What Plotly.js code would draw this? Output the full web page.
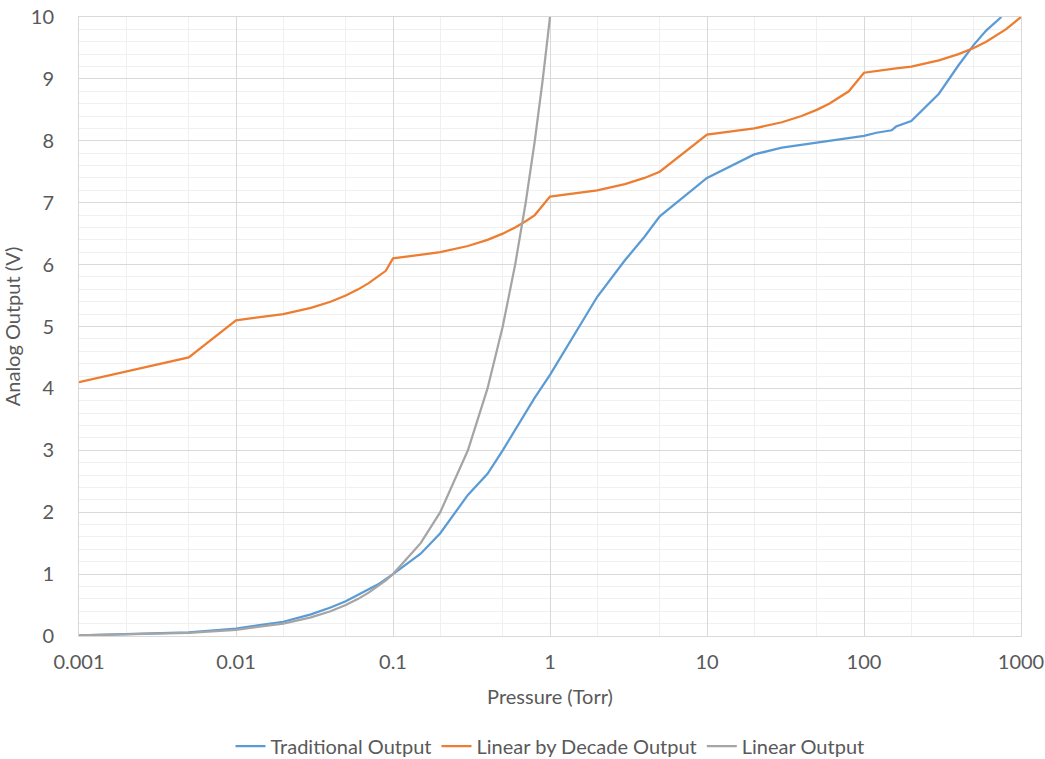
<!DOCTYPE html>
<html>
<head>
<meta charset="utf-8">
<script src="https://cdn.plot.ly/plotly-3.0.1.min.js"></script>
<style>html,body{margin:0;padding:0;background:#fff;}#chart{width:1045px;height:759px;}</style>
</head>
<body>
<div id="chart"></div>
<script>
// Traditional Output
const tradX = [0.001, 0.002, 0.005, 0.01, 0.02, 0.03, 0.04, 0.05, 0.06, 0.07, 0.08, 0.1, 0.15, 0.2, 0.3, 0.4, 0.5, 0.8, 1, 2, 3, 4, 5, 10, 20, 30, 50, 70, 100, 120, 150, 160, 200, 300, 400, 500, 600, 750];
const tradY = [0.01, 0.03, 0.06, 0.12, 0.23, 0.35, 0.46, 0.56, 0.66, 0.75, 0.83, 1.0, 1.33, 1.66, 2.28, 2.62, 3.0, 3.85, 4.22, 5.48, 6.07, 6.45, 6.78, 7.4, 7.78, 7.89, 7.97, 8.02, 8.08, 8.13, 8.17, 8.23, 8.32, 8.76, 9.22, 9.55, 9.78, 10.0];
// Linear by Decade Output
const decX = [0.001, 0.005, 0.01, 0.02, 0.03, 0.04, 0.05, 0.06, 0.07, 0.08, 0.09, 0.1, 0.2, 0.3, 0.4, 0.5, 0.6, 0.7, 0.8, 1, 2, 3, 4, 5, 10, 20, 30, 40, 50, 60, 70, 80, 100, 150, 160, 200, 300, 400, 500, 600, 700, 800, 1000];
const decY = [4.1, 4.5, 5.1, 5.2, 5.3, 5.4, 5.5, 5.6, 5.7, 5.8, 5.9, 6.1, 6.2, 6.3, 6.4, 6.5, 6.6, 6.7, 6.8, 7.1, 7.2, 7.3, 7.4, 7.5, 8.1, 8.2, 8.3, 8.4, 8.5, 8.6, 8.7, 8.8, 9.1, 9.15, 9.17, 9.2, 9.3, 9.4, 9.5, 9.6, 9.7, 9.8, 10.0];
// Linear Output
const linX = [0.001, 0.005, 0.01, 0.02, 0.03, 0.04, 0.05, 0.06, 0.07, 0.08, 0.09, 0.1, 0.15, 0.2, 0.3, 0.4, 0.5, 0.6, 0.7, 0.8, 0.9, 1];
const linY = [0.01, 0.05, 0.1, 0.2, 0.3, 0.4, 0.5, 0.6, 0.7, 0.8, 0.9, 1.0, 1.5, 2.0, 3.0, 4.0, 5.0, 6.0, 7.0, 8.0, 9.0, 10.0];

const xTickVals = [0.001, 0.01, 0.1, 1, 10, 100, 1000];
const xTickText = ['0.001', '0.01', '0.1', '1', '10', '100', '1000'];
const seriesNames = ['Traditional Output', 'Linear by Decade Output', 'Linear Output'];
const seriesColors = ['#5b9bd5', '#ed7d31', '#a5a5a5'];

const font = {family: 'Lato, Open Sans, sans-serif', color: '#595959'};
const f = s => Object.assign({size: s}, font);

const traces = [[tradX, tradY], [decX, decY], [linX, linY]].map((d, i) => ({
  x: d[0], y: d[1], type: 'scatter', mode: 'lines', name: seriesNames[i],
  line: {color: seriesColors[i], width: 2.25}
}));

const layout = {
  width: 1045, height: 759,
  margin: {l: 79, r: 24, t: 17, b: 123, autoexpand: false},
  paper_bgcolor: '#fff', plot_bgcolor: '#fff',
  font: f(20),
  showlegend: true,
  legend: {orientation: 'h', x: 0.5, xanchor: 'center', y: -0.178, yanchor: 'middle',
    font: f(20), traceorder: 'normal', itemwidth: 30},
  xaxis: {
    type: 'log', range: [-3, 3], tickvals: xTickVals, ticktext: xTickText,
    showgrid: true, gridcolor: '#d9d9d9', gridwidth: 1,
    minor: {showgrid: true, gridcolor: '#f0f0f0', gridwidth: 1, ticks: ''},
    showline: true, linecolor: '#d9d9d9', mirror: true, zeroline: false,
    ticks: '', tickfont: f(20), ticklabelstandoff: 8,
    title: {text: 'Pressure (Torr)', font: f(20), standoff: 17}
  },
  yaxis: {
    range: [0, 10], dtick: 1, tick0: 0,
    showgrid: true, gridcolor: '#d9d9d9', gridwidth: 1,
    minor: {dtick: 0.2, showgrid: true, gridcolor: '#f0f0f0', gridwidth: 1, ticks: ''},
    showline: true, linecolor: '#d9d9d9', mirror: true, zeroline: false,
    ticks: '', tickfont: f(20), ticklabelstandoff: 20,
    title: {text: 'Analog Output (V)', font: f(20), standoff: 10}
  }
};

Plotly.newPlot('chart', traces, layout, {displayModeBar: false, staticPlot: true});
</script>
</body>
</html>
